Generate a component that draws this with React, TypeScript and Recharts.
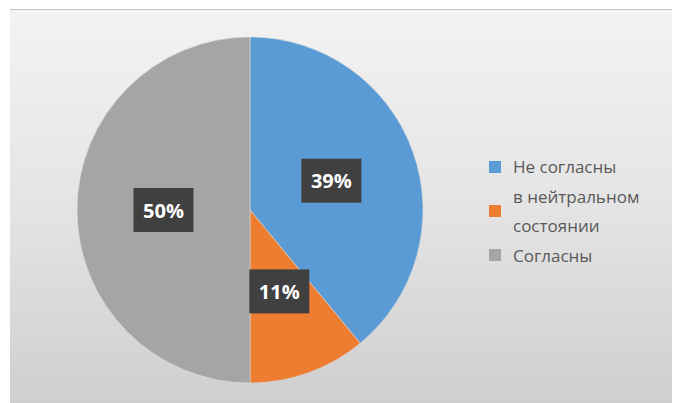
import React from "react";
import { PieChart, Pie, Cell, Legend } from "recharts";

const categories = ["Не согласны", "в нейтральном состоянии", "Согласны"];
const values = [39, 11, 50];
const colors = ["#5B9BD5", "#ED7D31", "#A5A5A5"];
const legendLines = [["Не согласны"], ["в нейтральном", "состоянии"], ["Согласны"]];

const data = categories.map((name, i) => ({ name, value: values[i] }));

const RAD = Math.PI / 180;

const renderLabel = (props: any) => {
  const { cx, cy, midAngle, outerRadius, value } = props;
  const r = outerRadius * 0.5;
  const x = cx + r * Math.cos(-midAngle * RAD);
  const y = cy + r * Math.sin(-midAngle * RAD);
  const w = 60;
  const h = 44;
  return (
    <g>
      <rect x={x - w / 2} y={y - h / 2} width={w} height={h} fill="#404040" />
      <text
        x={x}
        y={y}
        fill="#ffffff"
        textAnchor="middle"
        dominantBaseline="central"
        fontFamily="'Open Sans', 'DejaVu Sans', sans-serif"
        fontWeight="bold"
        fontSize={20}
      >
        {`${value}%`}
      </text>
    </g>
  );
};

const renderLegend = () => (
  <div style={{ fontFamily: "'Open Sans', 'DejaVu Sans', sans-serif", fontSize: 17, color: "#595959" }}>
    {legendLines.map((lines, i) => (
      <div key={i} style={{ display: "flex", alignItems: "center" }}>
        <div style={{ width: 12, height: 12, background: colors[i], marginRight: 12, flex: "none" }} />
        <div>
          {lines.map((l, j) => (
            <div key={j} style={{ lineHeight: "29.5px", whiteSpace: "nowrap" }}>{l}</div>
          ))}
        </div>
      </div>
    ))}
  </div>
);

export default function App() {
  return (
    <div style={{ position: "relative", width: 672, height: 395 }}>
      <div
        style={{
          position: "absolute",
          left: 2,
          top: 1,
          width: 670,
          height: 394,
          boxSizing: "border-box",
          borderTop: "1px solid #c4c4c4",
          background: "linear-gradient(to bottom, #f3f3f3 0%, #e4e4e4 50%, #cfcfcf 100%)",
        }}
      />
      <div style={{ position: "absolute", left: 0, top: 0 }}>
        <PieChart width={672} height={395} margin={{ top: 0, right: 0, bottom: 0, left: 0 }}>
          <Pie
            data={data}
            dataKey="value"
            nameKey="name"
            cx={242}
            cy={202}
            outerRadius={173}
            startAngle={90}
            endAngle={-270}
            stroke="#d8d8d8"
            strokeWidth={0.6}
            label={renderLabel}
            labelLine={false}
            isAnimationActive={false}
          >
            {data.map((d, i) => (
              <Cell key={d.name} fill={colors[i]} />
            ))}
          </Pie>
          <Legend
            layout="vertical"
            content={renderLegend}
            wrapperStyle={{ position: "absolute", left: 481, top: 144, width: 190 }}
          />
        </PieChart>
      </div>
    </div>
  );
}
